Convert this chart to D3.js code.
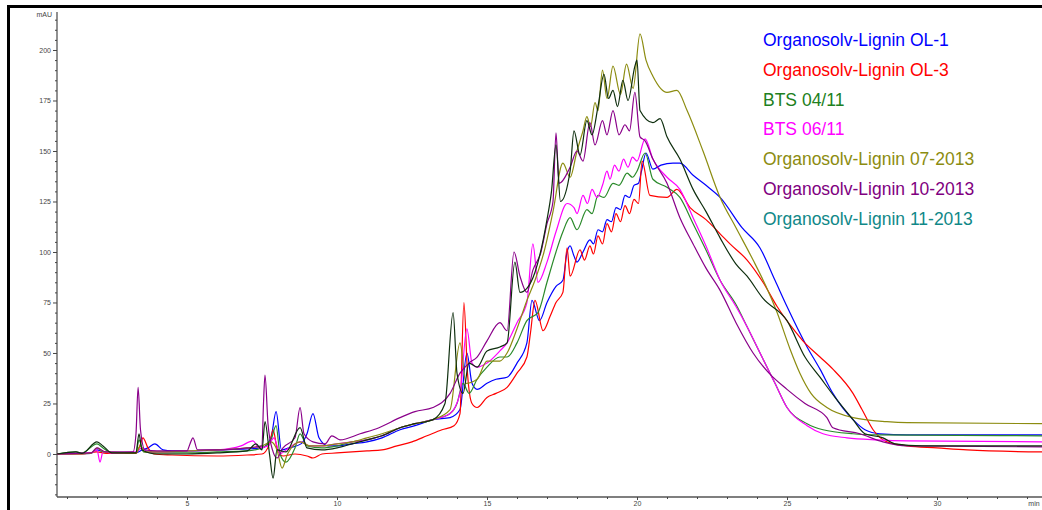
<!DOCTYPE html>
<html><head><meta charset="utf-8">
<script src="https://cdn.jsdelivr.net/npm/d3@7"></script>
<style>
html,body{margin:0;padding:0;background:#fff;}
svg{display:block;}
</style></head>
<body>
<svg id="c" width="1042" height="510"></svg>
<script>
// ---- data (time in min, absorbance in mAU) ----
const seriesNames = ["Organosolv-Lignin OL-1","Organosolv-Lignin OL-3","BTS 04/11","BTS 06/11","Organosolv-Lignin 07-2013","Organosolv-Lignin 10-2013","Organosolv-Lignin 11-2013"];
const legendColors = ["#0000ff","#ff0000","#208020","#ff00ff","#8c8c10","#800080","#108888"];
const lineColors = ["#0000ff","#ff0000","#2a8a2a","#ff00ff","#8c8c10","#8a008a","#0e2e0e"];

const ol1 = [[0.67,0],[1.8,0.3],[2.0,2],[2.2,1],[2.5,0.5],[3.3,0.5],[3.5,2],[3.7,3],[3.93,5],[4.2,2],[4.5,1.5],[5,1.5],[6,2],[7,2.5],[7.5,3],[7.8,8],[7.97,21],[8.15,2],[8.4,3],[8.8,5],[9.0,10],[9.2,20],[9.4,8],[9.7,4],[10,4],[10.5,5],[11,6],[11.5,8],[12.1,12],[12.6,14],[13.2,17],[13.77,18],[14.1,22],[14.33,50],[14.5,35],[14.67,32],[15,35],[15.3,37],[15.67,38],[16,45],[16.33,55],[16.5,76],[16.75,66],[17,75],[17.3,83],[17.53,86],[17.67,100],[17.77,103],[17.9,98],[18,95],[18.2,100],[18.43,106],[18.55,104],[18.7,111],[18.85,110],[19,116],[19.15,115],[19.3,122],[19.45,121],[19.6,128],[19.75,127],[19.9,133],[20.05,134],[20.15,140],[20.3,149],[20.53,141],[20.8,143],[21.2,144],[21.43,144],[21.87,138],[22.3,133],[22.77,127],[23.5,112],[24.1,102],[24.6,86],[25,73],[25.67,53],[26.1,42],[26.53,30],[27.2,17],[27.6,12],[28.1,10],[29,9.5],[33.5,9.5]];
const ol3 = [[0.67,0],[1.5,0],[2,1],[2.3,0.3],[3.3,0.3],[3.45,5],[3.53,8],[3.7,3],[3.9,0],[4.5,-0.5],[6,-1],[7,-0.5],[7.5,0],[7.75,5],[7.87,12],[8.0,3],[8.2,-1],[8.6,0],[9.0,-1],[9.2,-2],[9.5,0],[10,0.5],[10.5,1],[11,1.5],[11.5,2],[12,4],[12.5,6],[13,9],[13.5,12],[13.9,14],[14.1,20],[14.23,75],[14.35,40],[14.5,25],[14.67,23],[15,28],[15.3,30],[15.67,33],[16,40],[16.33,48],[16.45,60],[16.6,76],[16.87,61],[17.1,68],[17.3,75],[17.53,80],[17.67,102],[17.77,88],[18.1,101],[18.25,96],[18.43,103],[18.55,99],[18.7,108],[18.85,104],[19,114],[19.15,110],[19.3,119],[19.45,115],[19.6,123],[19.75,119],[19.9,126],[20.05,124],[20.17,145],[20.43,128],[21,127],[21.33,131],[21.77,122],[22.3,116],[22.77,109],[23.1,104],[23.67,96],[24.2,85],[24.67,73],[25.2,62],[25.53,56],[26.1,48],[26.53,42],[27.2,30],[27.5,22],[27.87,12],[28.33,6],[29,4],[30,3],[31,2],[33.5,1]];
const bts0411 = [[0.67,0],[1.3,1],[1.5,0.5],[2.0,5],[2.2,3],[2.5,0.5],[3.3,0.5],[3.4,7],[3.55,1],[4,0.5],[5,0.5],[6,1],[7,1.5],[7.5,3],[7.8,7],[7.97,14],[8.1,0],[8.3,-4],[8.6,3],[8.77,10],[9.0,4],[9.5,3],[10,4],[10.5,6],[11,7],[11.5,9],[12.1,13],[12.6,15],[13.2,17],[13.77,20],[14.0,25],[14.2,35],[14.4,30],[14.67,37],[15,43],[15.43,48],[15.67,48],[16,55],[16.33,66],[16.7,70],[17,85],[17.3,100],[17.53,110],[17.77,117],[18,111],[18.33,121],[18.5,119],[18.7,128],[18.9,127],[19.2,134],[19.4,133],[19.67,139],[19.85,137],[20,140],[20.27,149],[20.53,136],[21,132],[21.43,127],[21.87,114],[22.3,101],[22.77,86],[23.3,74],[23.67,63],[24.2,47],[24.6,35],[25,23],[25.67,15],[26.2,12],[27.2,10],[28,9.5],[33.5,9]];
const bts0611 = [[0.67,0],[1.8,0.5],[2.0,2],[2.1,-4],[2.2,1],[2.5,0.5],[3.3,1],[3.5,3],[3.7,1],[4,1],[5,1.5],[6,2],[6.8,4],[7.2,6.5],[7.4,3],[7.7,4],[7.9,8],[8.1,0],[8.3,2],[8.8,6],[9.1,4],[9.5,4],[10,5],[10.5,6],[11,7],[11.5,9],[12.1,13],[12.6,15],[13.2,17],[13.77,20],[14.1,30],[14.33,62],[14.5,45],[14.67,43],[15,45],[15.43,51],[15.67,55],[16,65],[16.33,75],[16.53,104],[16.7,85],[17,95],[17.3,110],[17.67,124],[17.9,122],[18,119],[18.2,128],[18.35,124],[18.5,131],[18.67,127],[18.85,133],[19,140],[19.1,136],[19.25,143],[19.4,140],[19.55,146],[19.7,142],[19.85,147],[20,145],[20.27,156],[20.53,146],[21,137],[21.43,131],[21.87,117],[22.3,103],[22.77,86],[23.3,73],[23.67,63],[24.2,47],[24.6,35],[25,23],[25.67,14],[26.2,10],[27,8],[28,7],[29,6.5],[33.5,6]];
const ol0713 = [[0.67,0],[1.8,0.3],[2.0,3],[2.2,1],[3.3,0.5],[3.45,4],[3.6,1],[4,1],[5,1.5],[6,2],[7,3],[7.5,4],[7.8,6],[8.0,2],[8.17,-7],[8.35,0],[8.77,6],[9.1,4],[9.5,4],[10,5],[10.5,6],[11,8],[11.5,10],[12.1,13],[12.6,15],[13.2,17],[13.77,22],[14.1,55],[14.3,35],[14.67,37],[15,46],[15.43,46],[15.67,50],[16,62],[16.33,76],[16.6,86],[16.9,100],[17.2,120],[17.53,144],[17.77,137],[18,150],[18.2,160],[18.33,167],[18.45,162],[18.6,174],[18.7,170],[18.85,190],[19.0,176],[19.2,192],[19.45,178],[19.65,193],[19.87,181],[20.1,208],[20.3,195],[20.53,187],[21,179],[21.33,180],[21.67,170],[22.2,150],[22.77,127],[23.3,112],[23.87,96],[24.3,83],[24.67,70],[25.1,52],[25.43,40],[25.8,30],[26.33,23],[27.2,18],[28.33,16],[29,15.5],[33.5,15]];
const ol1013 = [[0.67,0],[1.8,0.5],[2.0,3],[2.3,1],[3.2,1],[3.3,10],[3.37,33],[3.45,12],[3.6,2],[4,1.5],[5,1.5],[5.1,5],[5.2,8],[5.35,2],[6,2],[7,3],[7.5,4],[7.55,25],[7.6,39],[7.7,15],[7.85,2],[8.0,-2],[8.2,3],[8.6,8],[8.77,23],[8.9,10],[9.2,6],[9.6,5],[9.83,9],[10.1,7],[10.77,10],[11.4,13],[12.1,18],[12.6,21],[13.2,23],[13.77,30],[14.1,40],[14.4,45],[14.67,48],[15,56],[15.43,65],[15.67,61],[15.9,100],[16.1,88],[16.33,80],[16.53,91],[16.8,100],[17,114],[17.2,125],[17.3,159],[17.4,134],[17.77,142],[18.0,150],[18.2,145],[18.43,164],[18.6,153],[18.85,165],[19.0,158],[19.2,170],[19.4,158],[19.6,163],[19.75,160],[19.93,179],[20.1,157],[20.27,155],[20.53,146],[21,134],[21.43,117],[21.87,104],[22.3,92],[22.77,81],[23.3,65],[23.87,50],[24.4,40],[25,32],[25.6,25],[26.33,18],[26.53,13],[27.43,10],[28.2,6],[29,4],[33.5,3.5]];
const ol1113 = [[0.67,0],[1.3,1],[1.5,0.3],[2.0,6],[2.2,4],[2.5,0.5],[3.3,0.5],[3.4,10],[3.5,2],[4,0],[5,0],[6,0.5],[7,1.5],[7.3,5],[7.5,2],[7.6,16],[7.75,0],[7.87,-12],[8.0,2],[8.3,1],[8.77,13],[9.0,3],[9.5,2],[10,3],[10.5,5],[11,7],[11.5,9],[12.1,13],[12.6,15],[13.2,17],[13.6,25],[13.87,70],[14.0,40],[14.2,30],[14.4,45],[14.67,43],[15,51],[15.43,53],[15.67,55],[15.93,95],[16.1,80],[16.33,82],[16.6,90],[17,116],[17.15,130],[17.3,153],[17.45,125],[17.77,140],[17.9,160],[18.1,148],[18.33,165],[18.5,158],[18.7,172],[18.9,188],[19.05,176],[19.2,180],[19.35,172],[19.53,185],[19.7,175],[19.93,192],[20,195],[20.1,170],[20.53,164],[20.77,166],[21,157],[21.43,146],[21.87,131],[22.3,120],[22.77,107],[23.3,94],[23.67,88],[24.2,77],[25,66],[25.6,48],[26.1,38],[26.6,28],[27.2,17],[27.6,10],[28.2,8],[28.6,5],[29.5,4],[33.5,4]];
const seriesData = [ol1, ol3, bts0411, bts0611, ol0713, ol1013, ol1113];

const yTickValues = [0,25,50,75,100,125,150,175,200];
const xTickValues = [5,10,15,20,25,30];
const yUnit = "mAU";
const xUnit = "min";

// ---- layout ----
const svg = d3.select("#c");
const x = d3.scaleLinear().domain([0.667, 33.5]).range([57, 1042]);
const y = d3.scaleLinear().domain([-21.3, 219.8]).range([497, 10]);

// frame
svg.append("line").attr("x1",8).attr("x2",1042).attr("y1",6.5).attr("y2",6.5).attr("stroke","#000").attr("stroke-width",3);
svg.append("line").attr("x1",8.5).attr("x2",8.5).attr("y1",5).attr("y2",510).attr("stroke","#000").attr("stroke-width",3);

svg.append("defs").append("clipPath").attr("id","clip").append("rect")
  .attr("x",57).attr("y",8).attr("width",985).attr("height",489);

// y axis
const yMinor = d3.range(-20, 216, 5).filter(v => yTickValues.indexOf(v) < 0);
const yAxisG = svg.append("g").attr("transform","translate(57,0)");
yAxisG.call(d3.axisLeft(y).tickValues(yMinor).tickSize(2).tickFormat(""));
yAxisG.append("g").call(d3.axisLeft(y).tickValues(yTickValues).tickSize(4).tickPadding(2).tickFormat(d3.format("d")));
yAxisG.selectAll(".domain").filter((d,i)=>i>0).remove();
yAxisG.select(".domain").attr("d","M0,12V497").attr("stroke","#555").attr("stroke-width",1.3);
yAxisG.selectAll(".tick line").attr("stroke","#444");
yAxisG.selectAll("text").attr("font-family","Liberation Sans, Arial, sans-serif").attr("font-size",7).attr("fill","#444");

// x axis
const xMinor = d3.range(1, 34, 1).filter(v => xTickValues.indexOf(v) < 0);
const xAxisG = svg.append("g").attr("transform","translate(0,497)");
xAxisG.call(d3.axisBottom(x).tickValues(xMinor).tickSize(2).tickFormat(""));
xAxisG.append("g").call(d3.axisBottom(x).tickValues(xTickValues).tickSize(3).tickPadding(1).tickFormat(d3.format("d")));
xAxisG.selectAll(".domain").filter((d,i)=>i>0).remove();
xAxisG.select(".domain").attr("d","M57,0H1042").attr("stroke","#555").attr("stroke-width",1.3);
xAxisG.selectAll(".tick line").attr("stroke","#444");
xAxisG.selectAll("text").attr("font-family","Liberation Sans, Arial, sans-serif").attr("font-size",7).attr("fill","#444");

svg.append("text").attr("x",52).attr("y",17).attr("text-anchor","end")
  .attr("font-family","Liberation Sans, Arial, sans-serif").attr("font-size",7).attr("fill","#444").text(yUnit);
svg.append("text").attr("x",1034).attr("y",506).attr("text-anchor","middle")
  .attr("font-family","Liberation Sans, Arial, sans-serif").attr("font-size",7).attr("fill","#444").text(xUnit);

// lines
const line = d3.line().x(d => x(d[0])).y(d => y(d[1])).curve(d3.curveMonotoneX);
const lg = svg.append("g").attr("clip-path","url(#clip)");
seriesData.forEach((s,i) => {
  lg.append("path").datum(s).attr("d", line).attr("fill","none")
    .attr("stroke", lineColors[i]).attr("stroke-width",1.2).attr("stroke-linejoin","round");
});

// legend
const leg = svg.append("g");
seriesNames.forEach((n,i) => {
  leg.append("text").attr("x",763).attr("y",46 + i*29.8)
    .attr("font-family","Liberation Sans, Arial, sans-serif").attr("font-size",17.5)
    .attr("fill",legendColors[i]).text(n);
});
</script>
</body></html>
